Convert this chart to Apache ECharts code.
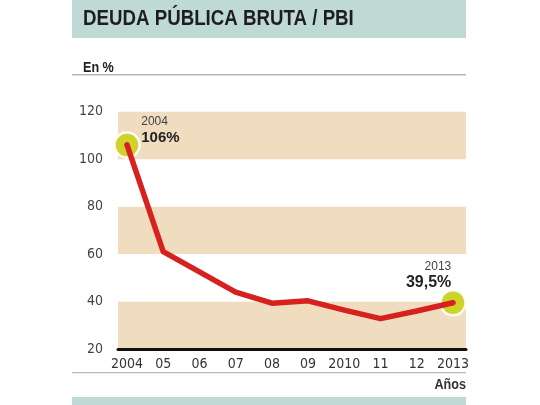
<!DOCTYPE html>
<html><head><meta charset="utf-8">
<script src="https://cdn.jsdelivr.net/npm/echarts@6/dist/echarts.min.js"></script>
<style>html,body{margin:0;padding:0;background:#fff}#c{width:540px;height:405px}</style>
</head><body><div id="c"></div>
<script>
const years = ['2004','05','06','07','08','09','2010','11','12','2013'];
const deuda = [106, 61, 52.5, 44, 39.3, 40.3, 36.4, 32.8, 36, 39.5];
const yMin = 20, yMax = 120, yStep = 20;
const titleText = 'DEUDA PÚBLICA BRUTA / PBI';
const unitText = 'En %';
const xNameText = 'Años';
const hlIndex = [0, 9];
const hlYear = ['2004', '2013'];
const hlText = ['106%', '39,5%'];

const FONT = 'Liberation Sans, Arial, sans-serif';
const NARROW = '"DejaVu Sans Condensed", "Liberation Sans", Arial, sans-serif';

const hlData = hlIndex.map((i, k) => {
  const left = k === 0;
  return {
    value: [years[i], deuda[i]],
    label: {
      show: true,
      position: left ? [28, -17] : [12, -30],
      align: left ? 'left' : 'right',
      verticalAlign: 'top',
      formatter: '{y|' + hlYear[k] + '}\n{v|' + hlText[k] + '}',
      rich: {
        y: { fontFamily: FONT, fontSize: 12, color: '#444', lineHeight: 15, align: left ? 'left' : 'right' },
        v: { fontFamily: FONT, fontSize: left ? 15 : 16, fontWeight: 'bold', color: '#222', lineHeight: 17, align: left ? 'left' : 'right' }
      }
    }
  };
});

const chart = echarts.init(document.getElementById('c'), null, { renderer: 'canvas' });
chart.setOption({
  animation: false,
  backgroundColor: '#ffffff',
  graphic: [
    { type: 'rect', shape: { x: 72, y: 0, width: 394, height: 38 }, style: { fill: '#bfd9d4' }, z: 0 },
    { type: 'text', x: 83, y: 8, scaleX: 0.85, style: { text: titleText, font: 'bold 22px ' + FONT, fill: '#1e1e1e', verticalAlign: 'top' } },
    { type: 'text', x: 83, y: 61, scaleX: 0.9, style: { text: unitText, font: 'bold 14px ' + FONT, fill: '#222', verticalAlign: 'top' } },
    { type: 'rect', shape: { x: 72, y: 74, width: 394, height: 1.5 }, style: { fill: '#b8b8b8' } },
    { type: 'rect', shape: { x: 72, y: 372, width: 394, height: 1.2 }, style: { fill: '#b8b8b8' } },
    { type: 'text', x: 466, y: 378, scaleX: 0.9, style: { text: xNameText, font: 'bold 14px ' + FONT, fill: '#333', align: 'right', verticalAlign: 'top' } },
    { type: 'rect', shape: { x: 72, y: 397, width: 394, height: 8 }, style: { fill: '#bfd9d4' } }
  ],
  grid: [
    { left: 118, right: 74, top: 111.7, bottom: 56 },
    { left: 127, right: 87, top: 111.7, bottom: 56 }
  ],
  xAxis: [
    { gridIndex: 0, type: 'category', data: years, boundaryGap: false,
      axisLine: { show: true, lineStyle: { color: '#111', width: 3 } },
      axisTick: { show: false }, axisLabel: { show: false }, splitLine: { show: false } },
    { gridIndex: 1, type: 'category', data: years, boundaryGap: false,
      axisLine: { show: false }, axisTick: { show: false },
      axisLabel: { show: true, margin: 8, fontFamily: NARROW, fontSize: 14, color: '#333', interval: 0 } }
  ],
  yAxis: [
    { gridIndex: 0, type: 'value', min: yMin, max: yMax, interval: yStep,
      axisLine: { show: false }, axisTick: { show: false },
      axisLabel: { show: true, margin: 15, fontFamily: NARROW, fontSize: 14, color: '#444' },
      splitLine: { show: false },
      splitArea: { show: true, areaStyle: { color: ['#f0ddbf', '#ffffff'] } } },
    { gridIndex: 1, type: 'value', min: yMin, max: yMax, interval: yStep,
      axisLine: { show: false }, axisTick: { show: false }, axisLabel: { show: false },
      splitLine: { show: false } }
  ],
  series: [
    {
      type: 'scatter', xAxisIndex: 1, yAxisIndex: 1,
      data: hlData,
      symbol: 'circle', symbolSize: 25,
      itemStyle: { color: '#cfd22a', borderColor: 'rgba(255,255,255,0.9)', borderWidth: 2.5, opacity: 1 },
      z: 3
    },
    {
      type: 'line', xAxisIndex: 1, yAxisIndex: 1,
      data: deuda,
      symbol: 'none',
      lineStyle: { color: '#d6211f', width: 5.5, cap: 'round', join: 'round' },
      itemStyle: { color: '#d6211f' },
      z: 5
    }
  ]
});
</script></body></html>
